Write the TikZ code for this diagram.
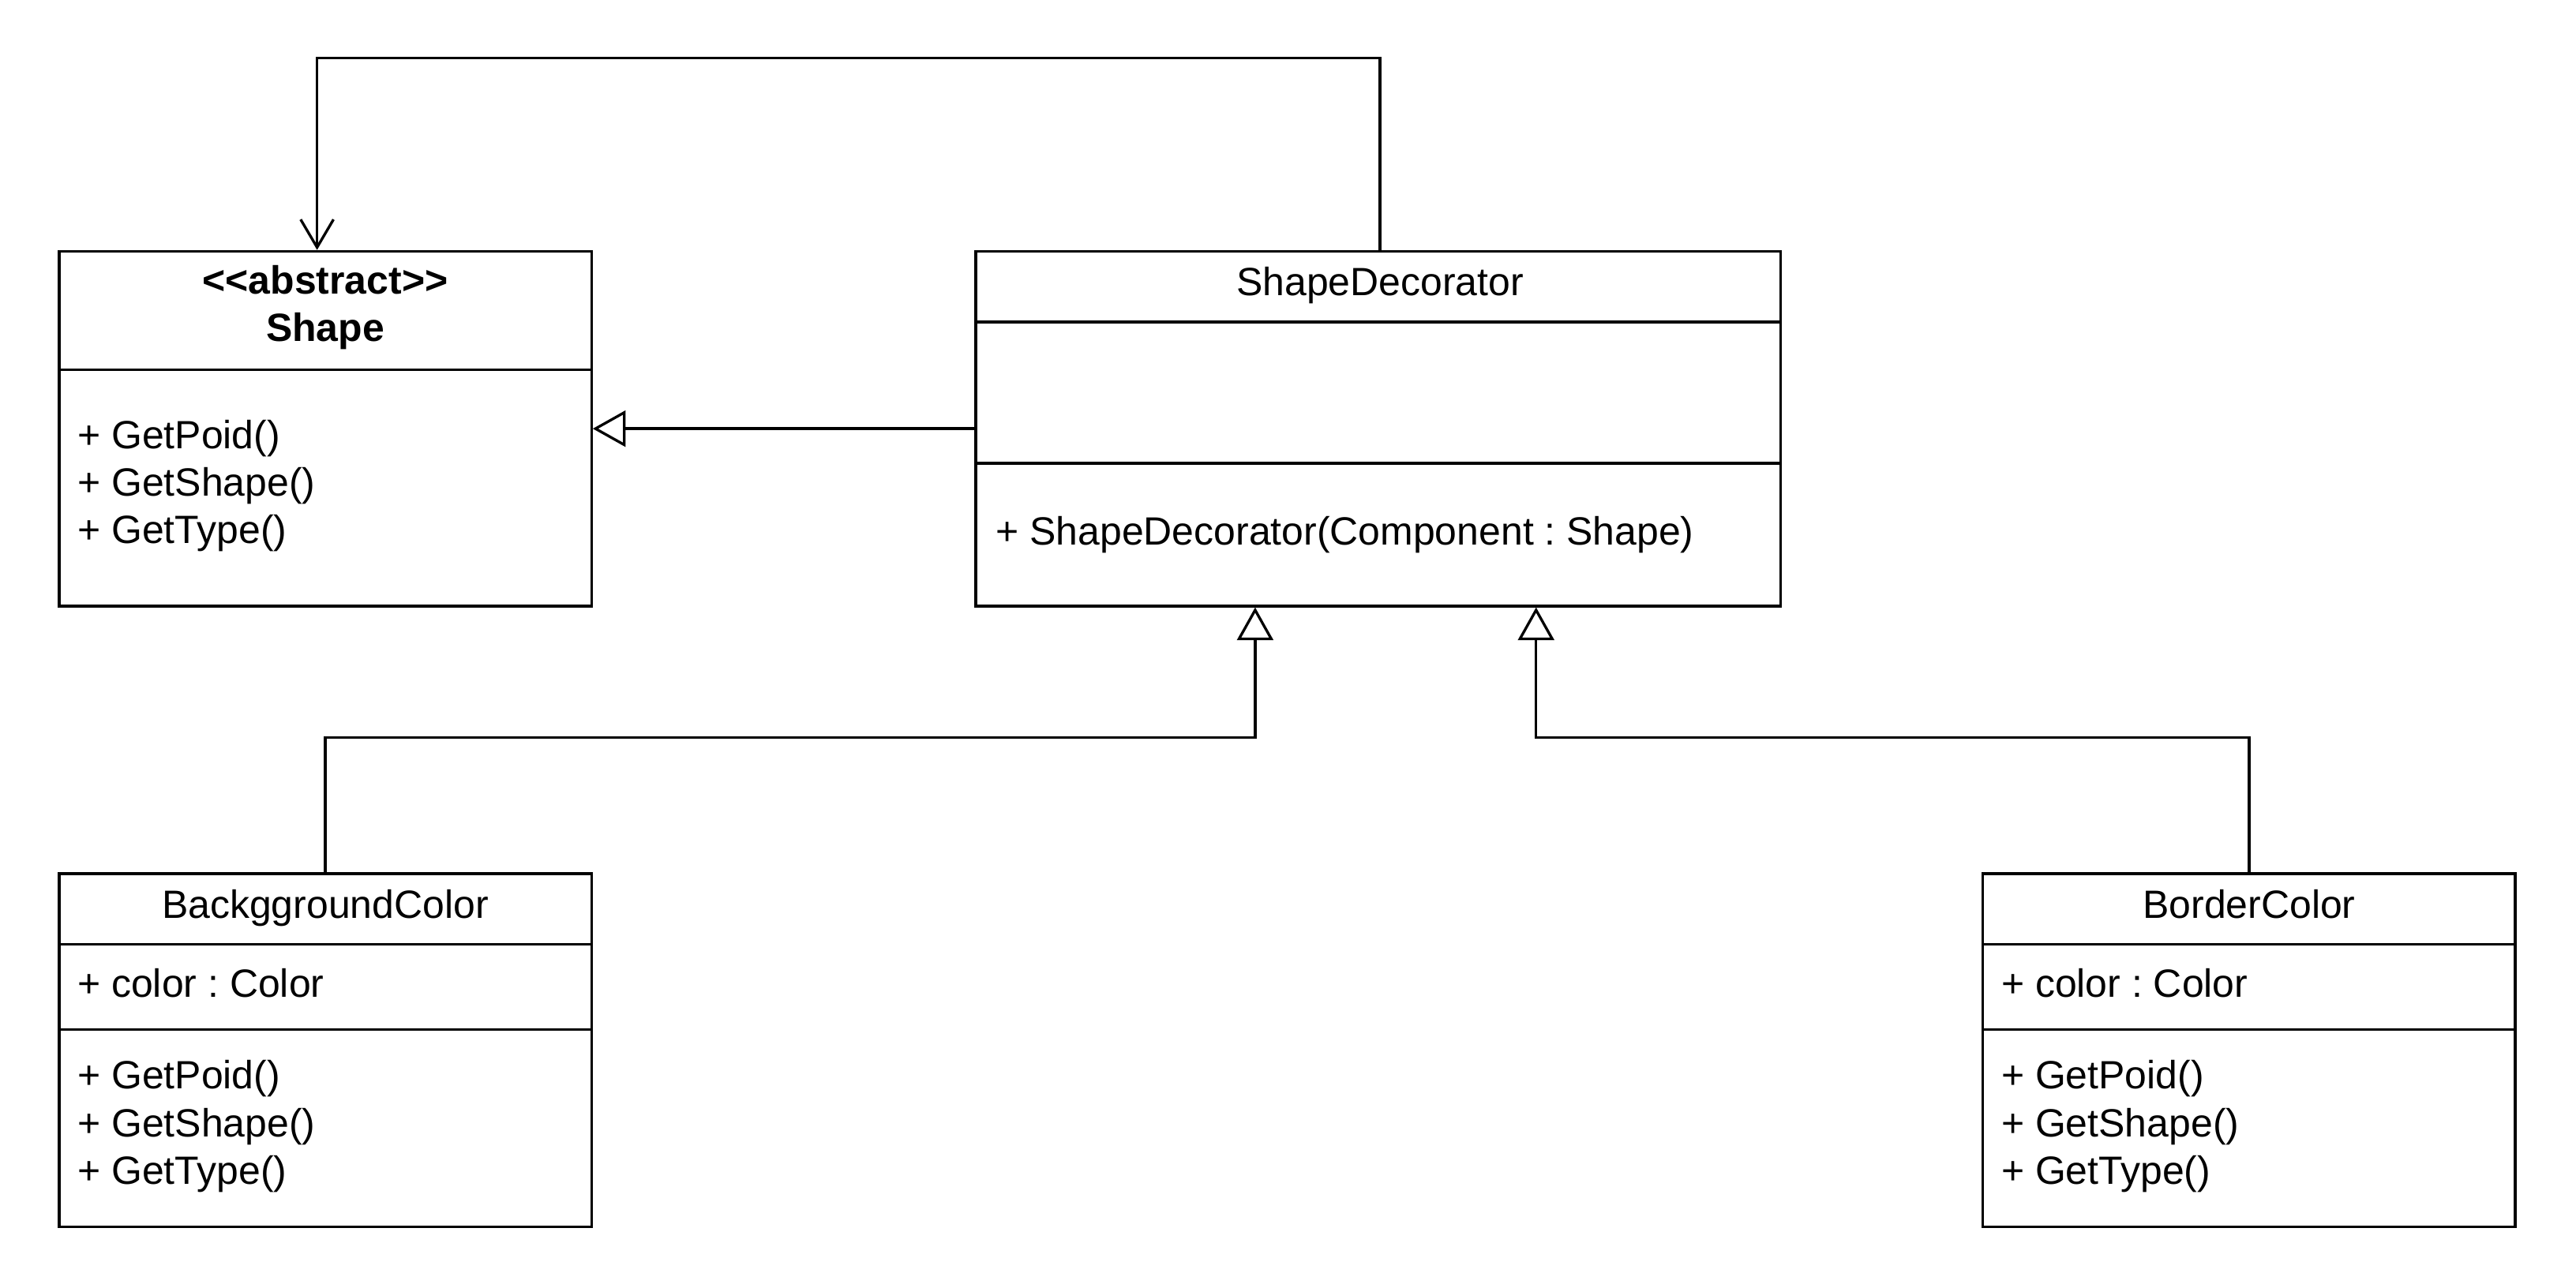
\documentclass[tikz,border=0pt]{standalone}
\usepackage{fontspec}
\setmainfont{Liberation Sans}
\usetikzlibrary{arrows.meta}
\frenchspacing
\begin{document}
\begin{tikzpicture}[x=1pt,y=-1pt,
  umlbox/.style={draw=black, line width=1.6pt, rectangle, inner sep=0pt, fill=white},
  sepline/.style={line width=1.6pt},
  txt/.style={inner sep=0pt, font=\fontsize{24}{28}\selectfont},
  lt/.style={txt, anchor=base west},
  ct/.style={txt, anchor=base},
  conn/.style={line width=1.6pt},
  assoc/.style={conn, -{Straight Barb[length=17pt,width=20pt,line width=1.6pt]}},
  gen/.style={conn, -{Triangle[open,length=20pt,width=22pt,line width=1.6pt,fill=white]}}
]
\useasboundingbox (0,0) rectangle (1568,784);

% Shape
\node[umlbox, minimum width=324pt, minimum height=216pt] (shape) at (198,261) {};
\draw[sepline] (shape.west |- 0,225) -- (shape.east |- 0,225);
\node[ct, font=\fontsize{24}{28}\selectfont\bfseries] (shapeT1) at (198,179) {\textless{}\textless{}abstract\textgreater{}\textgreater{}};
\node[ct, font=\fontsize{24}{28}\selectfont\bfseries] (shapeT2) at (198,208) {Shape};
\node[lt] (shapeM1) at (47,273) {+ GetPoid()};
\node[lt] (shapeM2) at (47,302) {+ GetShape()};
\node[lt] (shapeM3) at (47,331) {+ GetType()};

% ShapeDecorator
\node[umlbox, minimum width=490pt, minimum height=216pt] (sd) at (839,261) {};
\draw[sepline] (sd.west |- 0,196) -- (sd.east |- 0,196);
\draw[sepline] (sd.west |- 0,282) -- (sd.east |- 0,282);
\node[ct] (sdT) at (840,180) {ShapeDecorator};
\node[lt] (sdM1) at (606,332) {+ ShapeDecorator(Component : Shape)};

% BackggroundColor
\node[umlbox, minimum width=324pt, minimum height=215pt] (bg) at (198,639.5) {};
\draw[sepline] (bg.west |- 0,575) -- (bg.east |- 0,575);
\draw[sepline] (bg.west |- 0,627) -- (bg.east |- 0,627);
\node[ct] (bgT) at (198,559) {BackggroundColor};
\node[lt] (bgA1) at (47,607) {+ color : Color};
\node[lt] (bgM1) at (47,663) {+ GetPoid()};
\node[lt] (bgM2) at (47,692) {+ GetShape()};
\node[lt] (bgM3) at (47,721) {+ GetType()};

% BorderColor
\node[umlbox, minimum width=324pt, minimum height=215pt] (bc) at (1369,639.5) {};
\draw[sepline] (bc.west |- 0,575) -- (bc.east |- 0,575);
\draw[sepline] (bc.west |- 0,627) -- (bc.east |- 0,627);
\node[ct] (bcT) at (1369,559) {BorderColor};
\node[lt] (bcA1) at (1218,607) {+ color : Color};
\node[lt] (bcM1) at (1218,663) {+ GetPoid()};
\node[lt] (bcM2) at (1218,692) {+ GetShape()};
\node[lt] (bcM3) at (1218,721) {+ GetType()};

% connectors
\draw[assoc] ([xshift=1pt]sd.north) -- ++(0,-117) -| ([xshift=-5pt]shape.north);
\draw[gen] (sd.west) -- (shape.east);
\draw[gen] (bg.north) -- ++(0,-82) -| ([xshift=-75pt]sd.south);
\draw[gen] (bc.north) -- ++(0,-82) -| ([xshift=96pt]sd.south);
\end{tikzpicture}
\end{document}
